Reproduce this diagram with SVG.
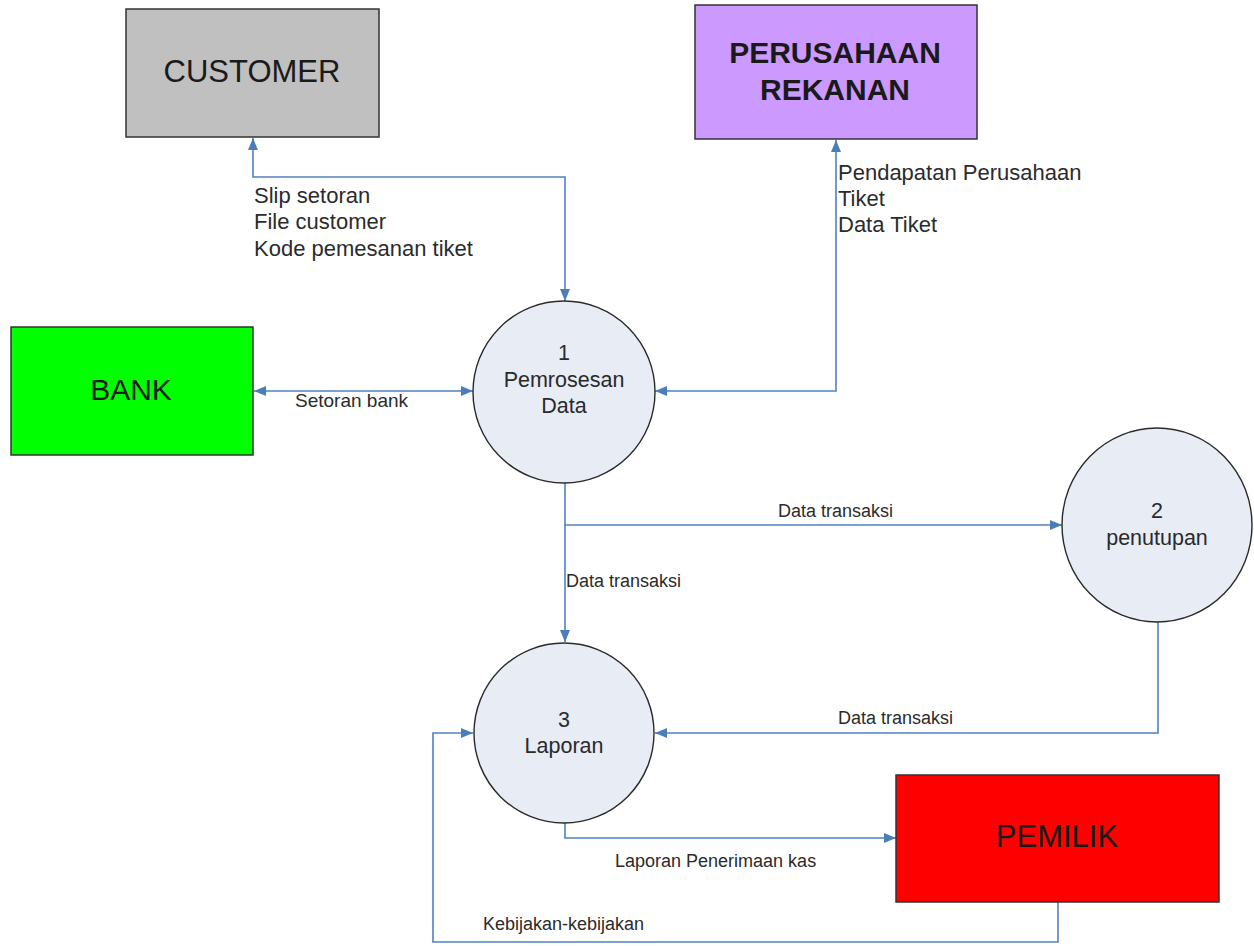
<svg xmlns="http://www.w3.org/2000/svg" width="1254" height="946" viewBox="0 0 1254 946">
  <style>
    .box { stroke: #333333; stroke-width: 1.5; }
    .proc { fill: #e8ecf5; stroke: #2a2a2a; stroke-width: 1.4; }
    .conn { fill: none; stroke: #4f81bd; stroke-width: 1.6; }
    .ent { font-family: "Liberation Sans", Arial, sans-serif; fill: #1a1a1a; text-anchor: middle; }
    .ptxt { font-family: "Liberation Sans", Arial, sans-serif; font-size: 21.5px; fill: #2a2a2a; text-anchor: middle; }
    .lbl { font-family: "Liberation Sans", Arial, sans-serif; fill: #2b2b2b; }
  </style>
  <defs>
    <marker id="arr" viewBox="0 0 12 10" refX="12" refY="5" markerWidth="13" markerHeight="10" markerUnits="userSpaceOnUse" orient="auto-start-reverse">
      <path d="M0,0 L12,5 L0,10 z" fill="#4a7ebb"/>
    </marker>
  </defs>
  <rect width="1254" height="946" fill="#ffffff"/>

  <g id="connectors">
    <path class="conn" d="M253,138 L253,177 L565,177 L565,301" marker-start="url(#arr)" marker-end="url(#arr)"/>
    <path class="conn" d="M254,391 L473,391" marker-start="url(#arr)" marker-end="url(#arr)"/>
    <path class="conn" d="M836,140 L836,391 L655,391" marker-start="url(#arr)" marker-end="url(#arr)"/>
    <path class="conn" d="M565,483 L565,642" marker-end="url(#arr)"/>
    <path class="conn" d="M565,525 L1062,525" marker-end="url(#arr)"/>
    <path class="conn" d="M1158,621 L1158,733 L655,733" marker-end="url(#arr)"/>
    <path class="conn" d="M565,823 L565,838 L896,838" marker-end="url(#arr)"/>
    <path class="conn" d="M1058,902 L1058,942 L433,942 L433,733 L473,733" marker-end="url(#arr)"/>
  </g>

  <g id="labels">
    <text class="lbl" font-size="22" x="254" y="203">Slip setoran</text>
    <text class="lbl" font-size="22" x="254" y="229">File customer</text>
    <text class="lbl" font-size="22" x="254" y="256">Kode pemesanan tiket</text>
    <text class="lbl" font-size="22" x="838" y="180">Pendapatan Perusahaan</text>
    <text class="lbl" font-size="22" x="838" y="206">Tiket</text>
    <text class="lbl" font-size="22" x="838" y="232">Data Tiket</text>
    <text class="lbl" font-size="19" x="295" y="407">Setoran bank</text>
    <text class="lbl" font-size="18" x="778" y="517">Data transaksi</text>
    <text class="lbl" font-size="18" x="566" y="587">Data transaksi</text>
    <text class="lbl" font-size="18" x="838" y="724">Data transaksi</text>
    <text class="lbl" font-size="18" x="615" y="867">Laporan Penerimaan kas</text>
    <text class="lbl" font-size="18" x="483" y="930">Kebijakan-kebijakan</text>
  </g>

  <g id="customer">
    <rect class="box" x="126" y="9" width="253" height="128" fill="#c0c0c0"/>
    <text class="ent" x="252" y="82" font-size="31">CUSTOMER</text>
  </g>
  <g id="perusahaan-rekanan">
    <rect class="box" x="695" y="5" width="282" height="134" fill="#cc99ff"/>
    <text class="ent" x="835" y="63" font-size="30" font-weight="bold">PERUSAHAAN</text>
    <text class="ent" x="835" y="100" font-size="30" font-weight="bold">REKANAN</text>
  </g>
  <g id="bank">
    <rect class="box" x="11" y="327" width="242" height="128" fill="#00ff00"/>
    <text class="ent" x="131" y="400" font-size="30">BANK</text>
  </g>
  <g id="pemilik">
    <rect class="box" x="896" y="775" width="323" height="127" fill="#ff0000"/>
    <text class="ent" x="1057" y="847" font-size="31" fill="#1a0000">PEMILIK</text>
  </g>
  <g id="proses-1">
    <circle class="proc" cx="564" cy="392" r="91"/>
    <text class="ptxt" x="564" y="360">1</text>
    <text class="ptxt" x="564" y="387">Pemrosesan</text>
    <text class="ptxt" x="564" y="413">Data</text>
  </g>
  <g id="proses-2">
    <ellipse class="proc" cx="1157" cy="525" rx="95" ry="97"/>
    <text class="ptxt" x="1157" y="518">2</text>
    <text class="ptxt" x="1157" y="545">penutupan</text>
  </g>
  <g id="proses-3">
    <circle class="proc" cx="564" cy="733" r="90"/>
    <text class="ptxt" x="564" y="727">3</text>
    <text class="ptxt" x="564" y="753">Laporan</text>
  </g>
</svg>
